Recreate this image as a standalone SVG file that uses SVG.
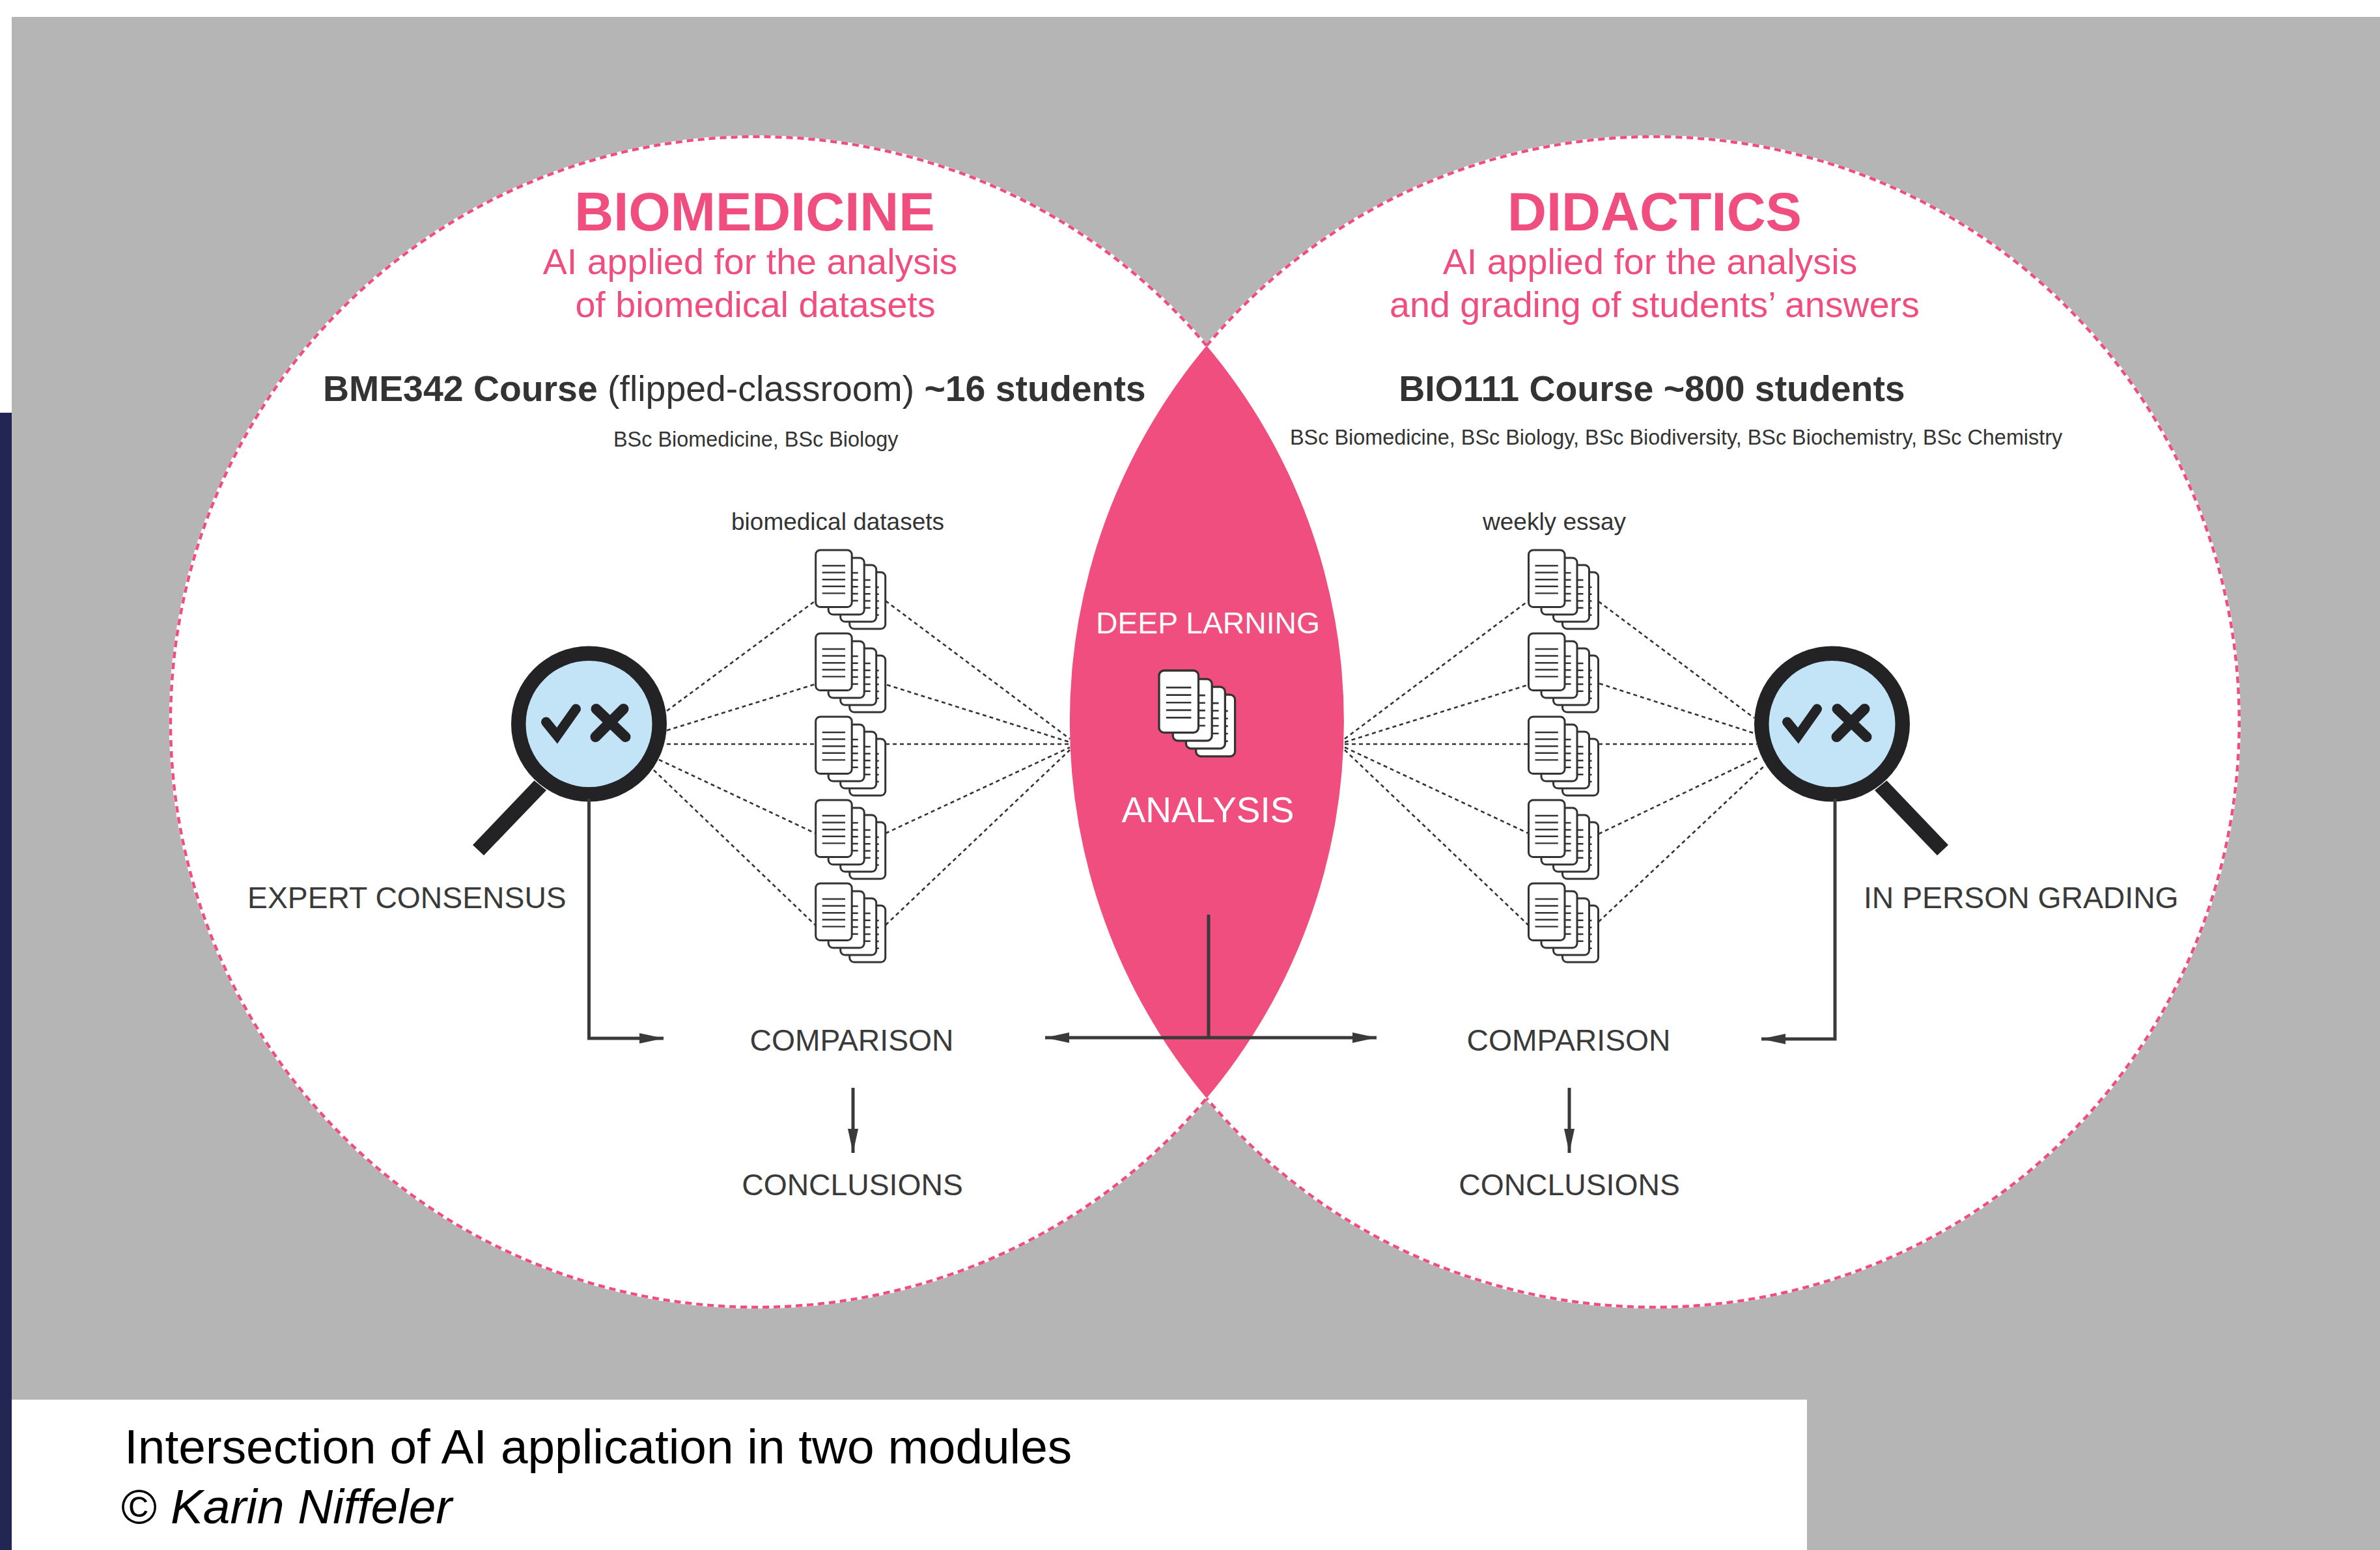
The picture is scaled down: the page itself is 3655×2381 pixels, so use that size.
<svg xmlns="http://www.w3.org/2000/svg" xmlns:xlink="http://www.w3.org/1999/xlink" width="3655" height="2381" viewBox="0 0 3655 2381">
<style>
text{font-family:"Liberation Sans",Arial,Helvetica,sans-serif;fill:#3a3a3a}
.m{text-anchor:middle}
.pink{fill:#f04e7e}
.h{font-size:83px;font-weight:700}
.s{font-size:55.600px}
.c{font-size:55.400px;fill:#333}
.b{font-weight:700}
.t{font-size:32.400px;fill:#333}
.d{font-size:37px;fill:#333}
.l{font-size:46.300px}
.w{fill:#fff}
.cap{font-size:74.800px;fill:#000}
.under{fill:none;stroke:#fff;stroke-width:4.500}
.dash{fill:none;stroke:#f04e7e;stroke-width:4.500;stroke-dasharray:10 7}
.dot{stroke:#333;stroke-width:2.600;stroke-dasharray:6 5;fill:none}
.ln{stroke:#3a3a3a;stroke-width:5;fill:none}
.pg{fill:#fff;stroke:#333;stroke-width:3}
.tx{stroke:#333;stroke-width:2.400}
.ink{fill:#232325}
.mk{fill:none;stroke:#232325;stroke-linecap:round;stroke-miterlimit:10}
</style>
<defs>
<marker id="ah" markerUnits="userSpaceOnUse" markerWidth="38" markerHeight="18" refX="37" refY="8" orient="auto-start-reverse" viewBox="0 0 38 16"><path d="M0 0L37 8L0 16Z" fill="#3a3a3a"/></marker>
<g id="stack">
<rect class="pg" x="52" y="34" width="55" height="87" rx="7"/>
<path class="tx" d="M93 57h4M93 67.700h4M93 78.300h4M93 89h4M93 99.700h4"/>
<rect class="pg" x="38" y="23" width="55" height="87" rx="7"/>
<path class="tx" d="M74 46h10M74 56.700h10M74 67.300h10M74 78h10M74 88.700h10"/>
<rect class="pg" x="19.500" y="12" width="55" height="87" rx="7"/>
<path class="tx" d="M55 35h10M55 45.700h10M55 56.300h10M55 67h10M55 77.700h10"/>
<rect class="pg" x="0" y="0" width="55.500" height="87.500" rx="7"/>
<path class="tx" d="M10 24h35.300M10 34.500h35.300M10 45.200h35.300M10 55.800h35.300M10 66.400h35.300"/>
</g>
<g id="lens">
<path class="ink" d="M-84 87L-65.500 102L-161.500 202L-178.500 186Z"/>
<circle class="ink" r="119.500"/>
<circle r="97" fill="#c3e4f7"/>
</g>
<g id="marks">
<path class="mk" stroke-width="15" d="M-66 -3L-49 18L-20 -23"/>
<path class="mk" stroke-width="16" d="M11 -23L56 20M53 -23L10 20"/>
</g>
</defs>
<rect id="page" width="3655" height="2381" fill="#fff"/>
<rect id="bar" x="0" y="634" width="18" height="1747" fill="#212752"/>
<rect id="ground" x="18" y="26" width="3637" height="2355" fill="#b5b5b5"/>
<rect id="captionbox" x="18" y="2150" width="2757" height="231" fill="#fff"/>

<g id="biomedicine"><ellipse cx="1164" cy="1109" rx="901" ry="899" fill="#fff"/></g>
<g id="didactics"><ellipse cx="2541" cy="1109" rx="898" ry="899" fill="#fff"/></g>
<g id="overlap">
<path d="M1853 531A901 899 0 0 1 1853 1687A898 899 0 0 1 1853 531Z" fill="#f04e7e"/>
</g>
<path class="under" d="M1853 531A901 899 0 1 0 1853 1687"/>
<path class="under" d="M1853 531A898 899 0 1 1 1853 1687"/>
<path class="dash" d="M1853 531A901 899 0 1 0 1853 1687"/>
<path class="dash" d="M1853 531A898 899 0 1 1 1853 1687"/>

<g id="glass-left"><use href="#lens" x="904.500" y="1112"/><use href="#marks" x="904.500" y="1112"/></g>
<g id="glass-right"><use href="#lens" transform="translate(2813.500 1112) scale(-1 1)"/><use href="#marks" x="2810.500" y="1112"/></g>

<g id="connectors">
<path class="dot" d="M1024 1092L1252 923M1024 1122L1252 1051M1024 1143H1252M1012 1167L1252 1280M1004 1183L1252 1421"/>
<path class="dot" d="M1360 923L1643 1135M1362 1052L1643 1140M1360 1143H1643M1360 1280L1643 1148M1360 1421L1643 1152"/>
<path class="dot" d="M2065 1135L2347 923M2065 1140L2347 1052M2065 1143H2347M2065 1148L2347 1280M2065 1152L2347 1421"/>
<path class="dot" d="M2455 924L2694 1103M2456 1050L2693 1126M2455 1143H2698M2455 1281L2701 1163M2455 1416L2710 1176"/>
<path class="ln" marker-end="url(#ah)" d="M904.500 1227V1595H1019"/>
<path class="ln" marker-end="url(#ah)" d="M2818 1227V1596H2705"/>
<path class="ln" marker-start="url(#ah)" marker-end="url(#ah)" d="M1605 1594H2114"/>
<path class="ln" d="M1856 1405V1594"/>
<path class="ln" marker-end="url(#ah)" d="M1310 1671V1771"/>
<path class="ln" marker-end="url(#ah)" d="M2410 1671V1771"/>
</g>

<g id="stacks-biomedicine">
<use href="#stack" x="1252.700" y="845"/><use href="#stack" x="1252.700" y="973"/><use href="#stack" x="1252.700" y="1101"/><use href="#stack" x="1252.700" y="1229"/><use href="#stack" x="1252.700" y="1357"/>
</g>
<g id="stacks-didactics">
<use href="#stack" x="2347.500" y="845"/><use href="#stack" x="2347.500" y="973"/><use href="#stack" x="2347.500" y="1101"/><use href="#stack" x="2347.500" y="1229"/><use href="#stack" x="2347.500" y="1357"/>
</g>
<g id="stack-analysis"><use href="#stack" transform="translate(1780 1030) scale(1.09)"/></g>

<g id="labels">
<text class="m pink h" x="1159" y="354">BIOMEDICINE</text>
<text class="m pink s" x="1152" y="421">AI applied for the analysis</text>
<text class="m pink s" x="1160" y="487">of biomedical datasets</text>
<text class="m pink h" x="2541" y="354">DIDACTICS</text>
<text class="m pink s" x="2534" y="421">AI applied for the analysis</text>
<text class="m pink s" x="2541" y="487">and grading of students’ answers</text>
<text class="c" x="496" y="616"><tspan class="b">BME342 Course</tspan> (flipped-classroom) <tspan class="b">~16 students</tspan></text>
<text class="c b m" x="2537" y="616">BIO111 Course ~800 students</text>
<text class="t" x="942" y="686">BSc Biomedicine, BSc Biology</text>
<text class="t" x="1981" y="683">BSc Biomedicine, BSc Biology, BSc Biodiversity, BSc Biochemistry, BSc Chemistry</text>
<text class="d" x="1123" y="814">biomedical datasets</text>
<text class="d" x="2277" y="814">weekly essay</text>
<text class="l" x="380" y="1395">EXPERT CONSENSUS</text>
<text class="l" x="2862" y="1395">IN PERSON GRADING</text>
<text class="l m" x="1308" y="1614">COMPARISON</text>
<text class="l m" x="2409" y="1614">COMPARISON</text>
<text class="l m" x="1309" y="1836">CONCLUSIONS</text>
<text class="l m" x="2410" y="1836">CONCLUSIONS</text>
<text class="l m w" x="1855" y="973">DEEP LARNING</text>
<text class="m w" style="font-size:55px" x="1855" y="1263">ANALYSIS</text>
<text class="cap" x="191" y="2248">Intersection of AI application in two modules</text>
<text class="cap" x="186" y="2340">© <tspan font-style="italic">Karin Niffeler</tspan></text>
</g>
</svg>
